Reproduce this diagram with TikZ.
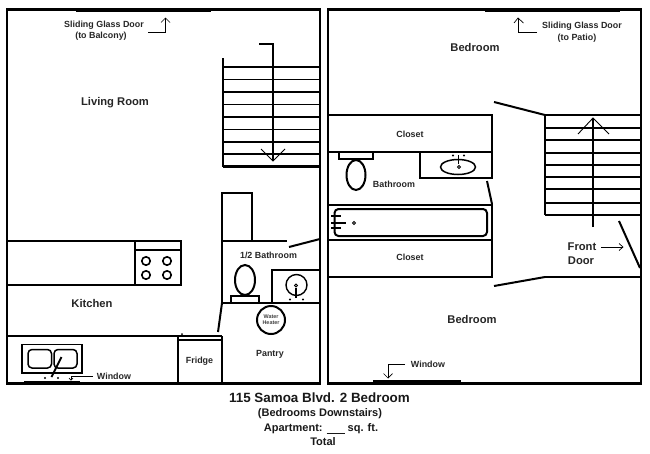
\documentclass[tikz,border=0pt]{standalone}
\usepackage{fontspec}
\setmainfont{Liberation Sans}
\tikzset{
 wall/.style={line width=2.8pt},
 fix/.style={line width=2pt},
 thin line/.style={line width=0.9pt},
 lbl/.style={font=\fontsize{11.2}{12}\selectfont\bfseries,inner sep=0pt,text=black!85},
 lbs/.style={font=\fontsize{8.9}{10}\selectfont\bfseries,inner sep=0pt,text=black!85},
 ttl/.style={font=\fontsize{11}{12}\selectfont\bfseries,inner sep=0pt,text=black!90},
 head/.style={line width=0.7pt},
}
\begin{document}
\begin{tikzpicture}[x=1pt,y=-1pt,line cap=butt]
\useasboundingbox[fill=white] (0,0) rectangle (650,453);
% outer walls
\draw[wall] (7,9.5) rectangle (320,383.5);
\draw[wall] (328,9.5) rectangle (641,383.5);
% sliding doors, windows
\draw[line width=4pt] (76,10) -- (211,10);
\draw[line width=4pt] (485,10) -- (620,10);
\draw[line width=4pt] (373,382) -- (461,382);
\draw[line width=3pt] (24,382) -- (80,382);
% left stairs
\draw[fix] (223,58) -- (223,166.5);
\foreach \y/\w in {67/2.4,79.5/1.6,92/2.4,104.5/1.6,117/2.4,129.5/1.6,142/2.4,154/1.6,166.5/2.4}
  \draw[line width=\w pt] (223,\y) -- (320,\y);
\draw[line width=1.3pt] (259,44) -- (273,44) -- (273,161);
\draw[thin line] (261,149) -- (273,161) -- (285,149);
% half bath / closet
\draw[fix] (222,240.5) -- (222,192.5) -- (252,192.5) -- (252,240.5);
\draw[fix] (222,240.5) -- (287,240.5);
\draw[fix] (289,247) -- (320,239);
\draw[fix] (222,240.5) -- (222,303);
\draw[fix] (222,303) -- (218,332);
\draw[fix] (222,303) -- (320,303);
\draw[fix] (272,303) -- (272,270) -- (320,270);
\draw[line width=1.4pt] (296.5,285) circle[radius=10.5];
\draw[line width=1pt] (296,285.5) circle[radius=1.5];
\draw[line width=1.3pt] (296,288) -- (296,298);
\foreach \x in {290,303} \fill (\x,299.5) circle[radius=1.1];
\draw[fix] (245,280) ellipse[x radius=10,y radius=15];
\draw[fix] (231,303) -- (231,296) -- (259,296) -- (259,303);
\draw[fix] (271,320) circle[radius=14];
\node[font=\fontsize{5.4}{6}\selectfont\bfseries,align=center,inner sep=0pt,text=black!75] (wh) at (271,320) {Water\\Heater};
% kitchen counter + range
\draw[fix] (7,240.5) -- (181,240.5) -- (181,285) -- (7,285);
\draw[fix] (135,240.5) -- (135,285);
\draw[fix] (135,249.5) -- (181,249.5);
\foreach \x in {146,167} \foreach \y in {261,275} \draw[line width=1.6pt] (\x,\y) circle[radius=4.2];
% kitchen lower
\draw[fix] (7,336) -- (222,336);
\draw[fix] (178,339.5) -- (222,339.5);
\draw[fix] (178,336) -- (178,384);
\draw[fix] (222,336) -- (222,384);
\fill (182,334) circle[radius=1];
% sink
\draw[line width=1.5pt] (22,344.5) rectangle (82,373);
\draw[line width=1.5pt,rounded corners=4pt] (28,349.5) rectangle (51.5,368);
\draw[line width=1.5pt,rounded corners=4pt] (54,349.5) rectangle (77,368);
\draw[fix] (61.5,357) -- (51.5,377);
\foreach \x in {45,58} \fill (\x,378) circle[radius=1.1];
\coordinate (wa) at (93,376.5);
\coordinate (wb) at (71,376.5);
\draw[head] (wa) -- (wb) -- (71,380);
\draw[head] (69,378) -- (71,380) -- (73,378);
% right: closets and bath
\draw[fix] (328,115) -- (492,115) -- (492,178) -- (420,178) -- (420,152);
\draw[fix] (328,152) -- (492,152);
\draw[line width=1.5pt] (458,167) ellipse[x radius=17.5,y radius=7.5];
\draw[line width=1pt] (459,167) circle[radius=1.5];
\draw[line width=1.2pt] (458.5,155) -- (458.5,164);
\foreach \x in {453,464} \fill (\x,155.5) circle[radius=1.1];
\draw[line width=1.4pt] (339,152) -- (339,159) -- (373,159) -- (373,152);
\draw[fix] (356,175) ellipse[x radius=9.5,y radius=15];
\draw[fix] (487,181) -- (492,204);
\draw[fix] (328,205) -- (492,205) -- (492,277) -- (328,277);
\draw[fix] (328,240) -- (492,240);
\draw[fix,rounded corners=4pt] (334.5,209) rectangle (487,236);
\draw[fix] (331,216) -- (341,216);
\draw[fix] (331,223) -- (346,223);
\draw[fix] (331,228) -- (341,228);
\draw[line width=1pt] (354,223) circle[radius=1.5];
% right doors
\draw[fix] (494,102) -- (545,115);
\draw[fix] (494,286) -- (545,277);
\draw[fix] (545,277) -- (641,277);
\draw[fix] (619,221) -- (640,268);
% right stairs
\draw[fix] (545,115) -- (545,215);
\foreach \y/\w in {115/2.4,128/1.6,140/2.4,153/1.6,165/2.4,177/1.6,189/1.6,203/1.6,215/2.4}
  \draw[line width=\w pt] (545,\y) -- (641,\y);
\draw[line width=1.3pt] (593,227) -- (593,118);
\draw[thin line] (578,134) -- (593,118) -- (609,134);
% small arrows
\draw[head] (148,32) -- (165.5,32) -- (165.5,18);
\draw[head] (161,22.5) -- (165.5,18) -- (170,22.5);
\draw[head] (537,32) -- (518,32) -- (518,18);
\draw[head] (514,23) -- (518,18) -- (523.5,23);
\draw[head] (601,247) -- (623,247);
\draw[head] (619,243.5) -- (623,247) -- (619,250.5);
\draw[head] (405,364) -- (388,364) -- (388,378);
\draw[head] (383.5,373.5) -- (388,378) -- (392.5,373.5);
% labels
\node[lbl] (lr) at (115,103) {Living Room};
\node[lbl] (kit) at (92,303) {Kitchen};
\node[lbs] (sg1) at (104,25) {Sliding Glass Door};
\node[lbs] (sg2) at (101,36) {(to Balcony)};
\node[lbs] (hb) at (268.5,255) {1/2 Bathroom};
\node[lbs] (pa) at (270,354) {Pantry};
\node[lbs] (fr) at (199.5,361) {Fridge};
\node[lbs] (w1) at (114,376) {Window};
\node[lbs] (w2) at (428,364) {Window};
\node[lbs] (cl1) at (410,134) {Closet};
\node[lbs] (cl2) at (410,257) {Closet};
\node[lbs] (ba) at (394,184) {Bathroom};
\node[lbl] (fd1) at (582,247) {Front};
\node[lbl] (fd2) at (581,261) {Door};
\node[lbl] (bd1) at (475,47) {Bedroom};
\node[lbl] (bd2) at (472,319) {Bedroom};
\node[lbs] (sp1) at (582,26) {Sliding Glass Door};
\node[lbs] (sp2) at (577,38) {(to Patio)};
\node[font=\fontsize{13.4}{14}\selectfont\bfseries,inner sep=0pt,text=black!90] (t1) at (319.5,397.5) {115 Samoa Blvd. 2 Bedroom};
\node[ttl] (t2) at (320,413.5) {(Bedrooms Downstairs)};
\node[ttl] (t3) at (321,428.5) {Apartment: \underline{\hspace{18pt}} sq. ft.};
\node[ttl] (t4) at (323,441.5) {Total};
\end{tikzpicture}
\end{document}
